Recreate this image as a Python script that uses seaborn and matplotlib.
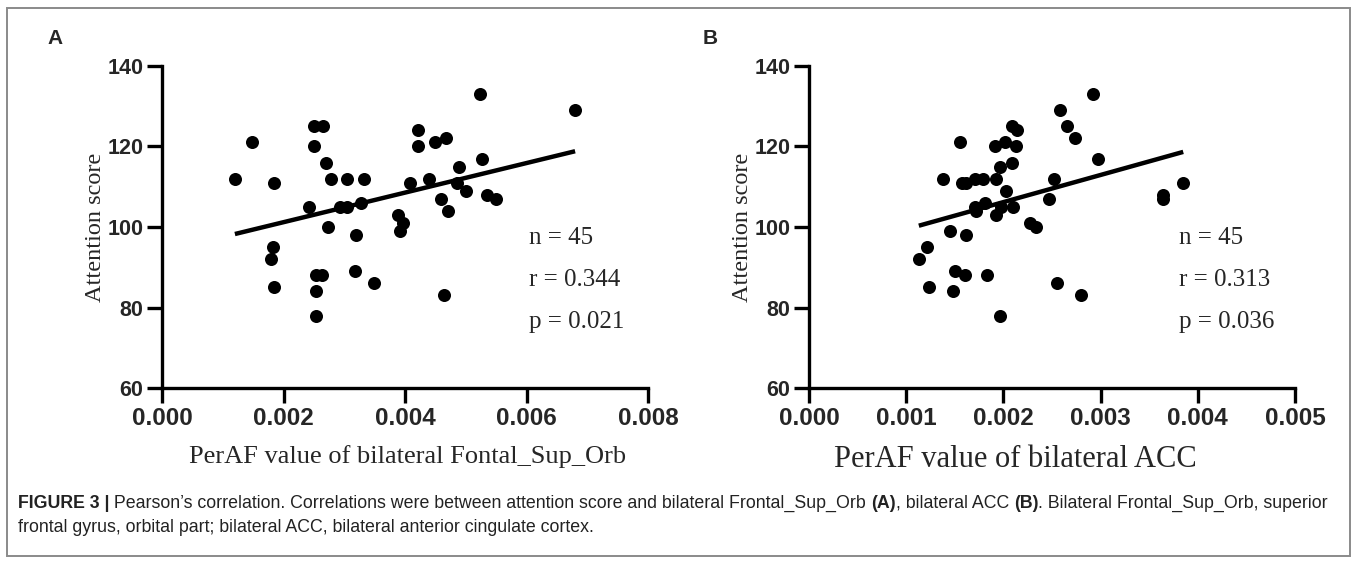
import numpy as np
import pandas as pd
import matplotlib
matplotlib.use("Agg")
import matplotlib.pyplot as plt
import matplotlib.patches as patches
import seaborn as sns

# ----------------------------
# Data
# ----------------------------
frontal_perAF = [0.00120, 0.00148, 0.00184, 0.00251, 0.00265, 0.00250, 0.00270, 0.00279,
                 0.00305, 0.00333, 0.00242, 0.00293, 0.00304, 0.00327, 0.00408, 0.00422,
                 0.00422, 0.00389, 0.00397, 0.00274, 0.00523, 0.00680, 0.00449, 0.00467,
                 0.00526, 0.00489, 0.00439, 0.00486, 0.00500, 0.00460, 0.00470, 0.00535,
                 0.00549, 0.00320, 0.00391, 0.00183, 0.00180, 0.00185, 0.00253, 0.00263,
                 0.00253, 0.00253, 0.00317, 0.00349, 0.00464]
frontal_score = [112, 121, 111, 125, 125, 120, 116, 112,
                 112, 112, 105, 105, 105, 106, 111, 124,
                 120, 103, 101, 100, 133, 129, 121, 122,
                 117, 115, 112, 111, 109, 107, 104, 108,
                 107, 98, 99, 95, 92, 85, 88, 88,
                 84, 78, 89, 86, 83]

acc_perAF = [0.00258, 0.00265, 0.00274, 0.00209, 0.00214, 0.00155, 0.00191, 0.00202,
             0.00213, 0.00209, 0.00196, 0.00138, 0.00157, 0.00162, 0.00171, 0.00179,
             0.00192, 0.00203, 0.00252, 0.00247, 0.00171, 0.00172, 0.00181, 0.00192,
             0.00198, 0.00210, 0.00227, 0.00234, 0.00145, 0.00292, 0.00297, 0.00385,
             0.00364, 0.00364, 0.00162, 0.00121, 0.00113, 0.00123, 0.00150, 0.00160,
             0.00148, 0.00183, 0.00196, 0.00255, 0.00280]
acc_score = [129, 125, 122, 125, 124, 121, 120, 121,
             120, 116, 115, 112, 111, 111, 112, 112,
             112, 109, 112, 107, 105, 104, 106, 103,
             105, 105, 101, 100, 99, 133, 117, 111,
             108, 107, 98, 95, 92, 85, 89, 88,
             84, 88, 78, 86, 83]

y_ticks = [60, 80, 100, 120, 140]
frontal_xticks = [0.000, 0.002, 0.004, 0.006, 0.008]
acc_xticks = [0.000, 0.001, 0.002, 0.003, 0.004, 0.005]

stats_a = ["n = 45", "r = 0.344", "p = 0.021"]
stats_b = ["n = 45", "r = 0.313", "p = 0.036"]

df_a = pd.DataFrame({"x": frontal_perAF, "y": frontal_score})
df_b = pd.DataFrame({"x": acc_perAF, "y": acc_score})

# ----------------------------
# Style
# ----------------------------
sns.set_style("ticks")
plt.rcParams["font.family"] = ["Liberation Sans", "DejaVu Sans"]

W, H = 1357, 565
fig = plt.figure(figsize=(W / 100, H / 100), dpi=100)

def px_axes(left, right, bottom, top):
    return fig.add_axes([left / W, 1 - bottom / H, (right - left) / W, (bottom - top) / H])

ax_a = px_axes(162, 648, 388, 66)
ax_b = px_axes(809, 1295, 388, 66)

serif = ["Liberation Serif", "DejaVu Serif"]

def draw_panel(ax, df, xticks, xlabel, xlabel_size, xlabel_pos, stats, stat_x):
    sns.regplot(data=df, x="x", y="y", ax=ax, ci=None, color="black",
                scatter_kws={"s": 88, "linewidths": 0, "alpha": 1},
                line_kws={"lw": 3.2, "solid_capstyle": "butt"})
    ax.set_xlim(xticks[0], xticks[-1])
    ax.set_ylim(y_ticks[0], y_ticks[-1])
    ax.set_xticks(xticks)
    ax.set_yticks(y_ticks)
    ax.set_xticklabels([f"{t:.3f}" for t in xticks], fontweight="bold", fontsize=17.5)
    ax.set_yticklabels([str(t) for t in y_ticks], fontweight="bold", fontsize=15.5)
    ax.tick_params(width=2.4, length=10.5, pad=3, color="black")
    sns.despine(ax=ax)
    for s in ["left", "bottom"]:
        ax.spines[s].set_linewidth(2.4)
        ax.spines[s].set_color("black")
    ax.set_xlabel(xlabel, family=serif, fontsize=xlabel_size, labelpad=11)
    ax.xaxis.label.set_x(xlabel_pos)
    ax.set_ylabel("Attention score", family=serif, fontsize=17.5, labelpad=1)
    for txt, yf in zip(stats, [0.465, 0.335, 0.205]):
        ax.text(stat_x, yf, txt, transform=ax.transAxes, family=serif,
                fontsize=18, va="center", ha="left")

draw_panel(ax_a, df_a, frontal_xticks, "PerAF value of bilateral Fontal_Sup_Orb", 19, 0.505,
           stats_a, (529 - 162) / (648 - 162))
draw_panel(ax_b, df_b, acc_xticks, "PerAF value of bilateral ACC", 22, 0.424,
           stats_b, (1179 - 809) / (1295 - 809))

# panel letters
fig.text(55 / W, 1 - 38 / H, "A", fontsize=15, fontweight="bold", ha="center", va="center")
fig.text(710 / W, 1 - 38 / H, "B", fontsize=15, fontweight="bold", ha="center", va="center")

# frame around the whole figure
fig.patches.append(patches.Rectangle((7 / W, 1 - 556 / H), (1350 - 7) / W, (556 - 8) / H,
                                     transform=fig.transFigure, fill=False,
                                     edgecolor="#8a8a8a", lw=1.4))

# ----------------------------
# Caption with bold runs
# ----------------------------
renderer = fig.canvas.get_renderer()

def draw_runs(x_px, y_px, runs, size=12.8):
    x = x_px / W
    for txt, bold in runs:
        t = fig.text(x, 1 - y_px / H, txt, fontsize=size, color="#222222",
                     fontweight="bold" if bold else "normal", va="center", ha="left")
        x += t.get_window_extent(renderer).width / W

draw_runs(18, 503, [
    ("FIGURE 3 |", True),
    (" Pearson\u2019s correlation. Correlations were between attention score and bilateral Frontal_Sup_Orb ", False),
    ("(A)", True),
    (", bilateral ACC ", False),
    ("(B)", True),
    (". Bilateral Frontal_Sup_Orb, superior", False),
])
draw_runs(18, 527, [
    ("frontal gyrus, orbital part; bilateral ACC, bilateral anterior cingulate cortex.", False),
])

fig.savefig("out.png", dpi=100)
